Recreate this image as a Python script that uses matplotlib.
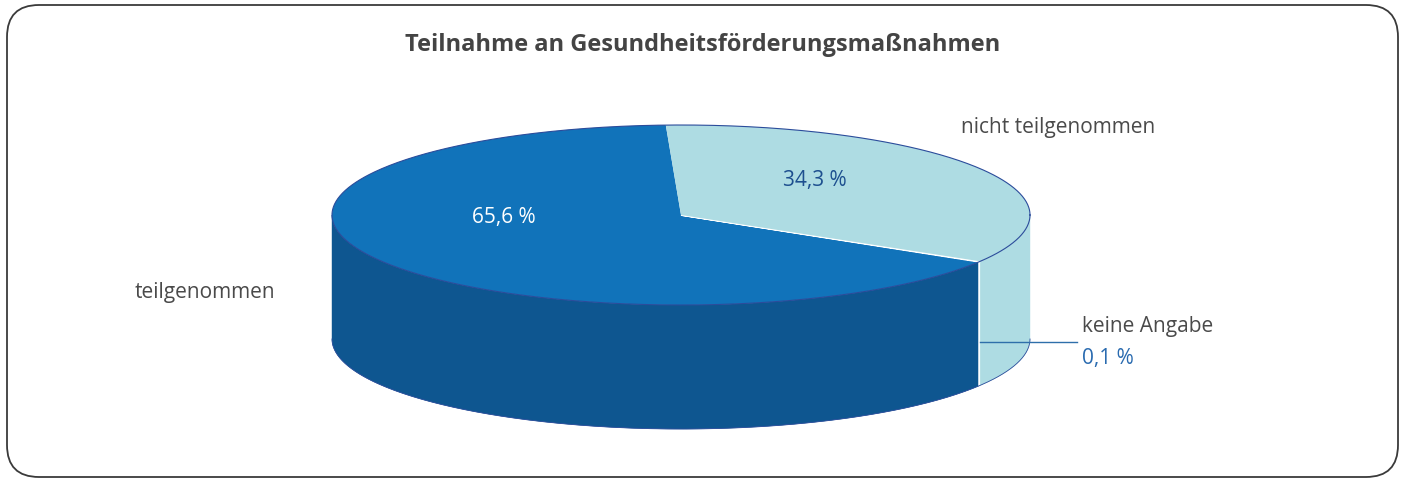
import numpy as np
import matplotlib.pyplot as plt
from matplotlib.patches import Polygon, FancyBboxPatch

title = 'Teilnahme an Gesundheitsförderungsmaßnahmen'
labels = ['teilgenommen', 'keine Angabe', 'nicht teilgenommen']
values = [65.6, 0.1, 34.3]
value_texts = ['65,6 %', '0,1 %', '34,3 %']

top_colors = ['#1173BA', '#FFFFFF', '#AEDCE3']
side_colors = ['#0E5690', '#FFFFFF', '#AEDCE3']

plt.rcParams['font.family'] = ['Open Sans', 'DejaVu Sans']

fig = plt.figure(figsize=(14.02, 4.81), dpi=100)
ax = fig.add_axes([0, 0, 1, 1])
ax.set_xlim(0, 1402)
ax.set_ylim(481, 0)
ax.axis('off')

# frame
ax.add_patch(FancyBboxPatch((7, 6), 1391, 472, boxstyle='round,pad=0,rounding_size=32',
                            fc='none', ec='#3a3a3a', lw=1.3))

# pie geometry (pixels)
cx, cy, rx, ry, depth = 681, 216, 349, 90, 124
start = 92.5


def pt(t, dz=0):
    r = np.radians(t)
    return cx + rx * np.cos(r), cy - ry * np.sin(r) + dz


vals = np.array(values)
angles = np.concatenate([[0], np.cumsum(vals / vals.sum() * 360)]) + start

# side walls (front half only)
for i in range(len(vals)):
    a0, a1 = angles[i], angles[i + 1]
    lo, hi = max(a0, 180), min(a1, 360)
    if hi > lo:
        ts = np.linspace(lo, hi, 200)
        xs, ys = pt(ts)
        xb, yb = pt(ts[::-1], depth)
        poly = np.column_stack([np.concatenate([xs, xb]), np.concatenate([ys, yb])])
        ec = 'white' if top_colors[i] == '#FFFFFF' else side_colors[i]
        ax.add_patch(Polygon(poly, closed=True, fc=side_colors[i], ec=ec,
                             lw=1.2 if ec == 'white' else 0.3, zorder=2))

# bottom front outline
ts = np.linspace(180, 360, 300)
xb, yb = pt(ts, depth)
ax.plot(xb, yb, color='#2B4C9B', lw=0.6, zorder=3)

# top faces
for i in range(len(vals)):
    ts = np.linspace(angles[i], angles[i + 1], 300)
    xs, ys = pt(ts)
    poly = np.column_stack([np.concatenate([[cx], xs]), np.concatenate([[cy], ys])])
    white = top_colors[i] == '#FFFFFF'
    ax.add_patch(Polygon(poly, closed=True, fc=top_colors[i],
                         ec='white' if white else 'none', lw=1.2, zorder=4))

ts = np.linspace(0, 360, 600)
xs, ys = pt(ts)
ax.plot(xs, ys, color='#2B4C9B', lw=0.8, zorder=5)

# title
ax.text(703, 45, title, ha='center', va='center', fontsize=17,
        fontweight='bold', color='#444444', zorder=7)

# labels
fs = 15
ax.text(205, 293, labels[0], ha='center', va='center', fontsize=fs, color='#4a4a4a', zorder=7)
ax.text(504, 218, value_texts[0], ha='center', va='center', fontsize=fs, color='white', zorder=7)
ax.text(1058, 127, labels[2], ha='center', va='center', fontsize=fs, color='#4a4a4a', zorder=7)
ax.text(815, 181, value_texts[2], ha='center', va='center', fontsize=fs, color='#1D4F8F', zorder=7)

tm = (angles[1] + angles[2]) / 2
x0, _ = pt(tm)
ax.plot([x0, 1077], [343, 343], color='#2E6FAA', lw=1, zorder=6)
ax.text(1082, 327, labels[1], ha='left', va='center', fontsize=fs, color='#4a4a4a', zorder=7)
ax.text(1082, 359, value_texts[1], ha='left', va='center', fontsize=fs, color='#2A6BB0', zorder=7)

fig.savefig('out.png', dpi=100)
